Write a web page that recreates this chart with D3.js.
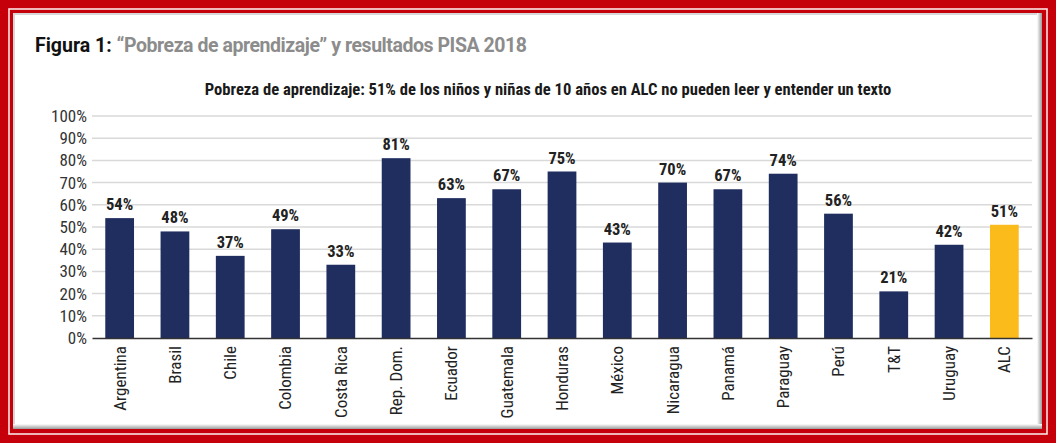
<!DOCTYPE html>
<html><head><meta charset="utf-8">
<script src="https://cdn.jsdelivr.net/npm/d3@7"></script>
<style>
html,body{margin:0;padding:0;background:#fff;}
svg{display:block;}
</style></head>
<body>
<svg id="c" width="1056" height="443"></svg>
<script>
const categories = ["Argentina","Brasil","Chile","Colombia","Costa Rica","Rep. Dom.","Ecuador","Guatemala","Honduras","México","Nicaragua","Panamá","Paraguay","Perú","T&T","Uruguay","ALC"];
const values = [54,48,37,49,33,81,63,67,75,43,70,67,74,56,21,42,51];
const highlight = ["ALC"];
const yTicks = [0,10,20,30,40,50,60,70,80,90,100];
const titleBold = "Figura 1: ";
const titleRest = "“Pobreza de aprendizaje” y resultados PISA 2018";
const subtitle = "Pobreza de aprendizaje: 51% de los niños y niñas de 10 años en ALC no pueden leer y entender un texto";

const W = 1056, H = 443;
const svg = d3.select("#c");
const cond = "'Roboto Condensed','Liberation Sans Narrow','DejaVu Sans Condensed',Roboto,sans-serif";

// frame
const defs = svg.append("defs");
const gr = defs.append("linearGradient").attr("id","shR").attr("x1",0).attr("x2",1).attr("y1",0).attr("y2",0);
gr.append("stop").attr("offset",0).attr("stop-color","#ffffff");
gr.append("stop").attr("offset",1).attr("stop-color","#9a9a9a");
const gb = defs.append("linearGradient").attr("id","shB").attr("x1",0).attr("x2",0).attr("y1",0).attr("y2",1);
gb.append("stop").attr("offset",0).attr("stop-color","#ffffff");
gb.append("stop").attr("offset",1).attr("stop-color","#9a9a9a");

svg.append("rect").attr("x",0).attr("y",0).attr("width",W).attr("height",H).attr("fill","#c6000b");
svg.append("rect").attr("x",9).attr("y",9).attr("width",W-18).attr("height",H-18).attr("fill","none").attr("stroke","#fbe3e3").attr("stroke-width",1.6);
const px=13, py=13, pw=W-27, ph=H-27;
svg.append("rect").attr("x",px).attr("y",py).attr("width",pw).attr("height",ph).attr("fill","#ffffff");
svg.append("rect").attr("x",px).attr("y",py).attr("width",pw).attr("height",2).attr("fill","#d8d8d8");
svg.append("rect").attr("x",px).attr("y",py).attr("width",2).attr("height",ph).attr("fill","#d8d8d8");
svg.append("rect").attr("x",px+pw-5).attr("y",py).attr("width",5).attr("height",ph).attr("fill","url(#shR)");
svg.append("rect").attr("x",px).attr("y",py+ph-5).attr("width",pw).attr("height",5).attr("fill","url(#shB)");

// titles
const t = svg.append("text").attr("x",35).attr("y",52)
  .style("font-family","Roboto, 'Open Sans', sans-serif").style("font-weight",700).style("font-size","19.5px");
t.append("tspan").attr("fill","#111").text(titleBold);
t.append("tspan").attr("fill","#8c8c8c").style("letter-spacing","-0.45px").text(titleRest);

svg.append("text").attr("x",548).attr("y",95).attr("text-anchor","middle")
  .style("font-family",cond).style("font-weight",700).style("font-size","16.6px").attr("fill","#1a1a1a")
  .text(subtitle);

// scales
const x = d3.scaleBand().domain(categories).range([92,1032]).paddingInner(0.48).paddingOuter(0.24);
const y = d3.scaleLinear().domain([0,100]).range([338,116]);

// grid
svg.append("g").selectAll("line").data(yTicks.filter(d=>d>0)).join("line")
  .attr("x1",92).attr("x2",1032).attr("y1",d=>y(d)).attr("y2",d=>y(d))
  .attr("stroke","#d9d9d9").attr("stroke-width",1.5);

// y axis
const ya = svg.append("g").attr("transform","translate(92,0)")
  .call(d3.axisLeft(y).tickValues(yTicks).tickFormat(d=>d+"%").tickSize(0).tickPadding(5));
ya.select(".domain").remove();
ya.selectAll("text").style("font-family",cond).style("font-size","17px").attr("fill","#333");

// bars
svg.append("g").selectAll("rect").data(categories).join("rect")
  .attr("x",d=>x(d)).attr("width",x.bandwidth())
  .attr("y",(d,i)=>y(values[i])).attr("height",(d,i)=>y(0)-y(values[i]))
  .attr("fill",d=>highlight.includes(d)?"#fbbb1b":"#1f2d5f");

// value labels
svg.append("g").selectAll("text").data(categories).join("text")
  .attr("x",d=>x(d)+x.bandwidth()/2).attr("y",(d,i)=>y(values[i])-8)
  .attr("text-anchor","middle").style("font-family",cond).style("font-weight",700).style("font-size","16.5px").attr("fill","#222")
  .text((d,i)=>values[i]+"%");

// x axis
const xa = svg.append("g").attr("transform","translate(0,338)")
  .call(d3.axisBottom(x).tickSize(0).tickPadding(0));
xa.select(".domain").attr("stroke","#333").attr("stroke-width",1.5);
xa.selectAll("text").attr("transform",null).attr("x",0).attr("y",0)
  .attr("text-anchor","end").attr("dy","0.35em")
  .attr("transform","translate(0,8) rotate(-90)")
  .style("font-family",cond).style("font-size","17px").attr("fill","#222");
</script>
</body></html>
